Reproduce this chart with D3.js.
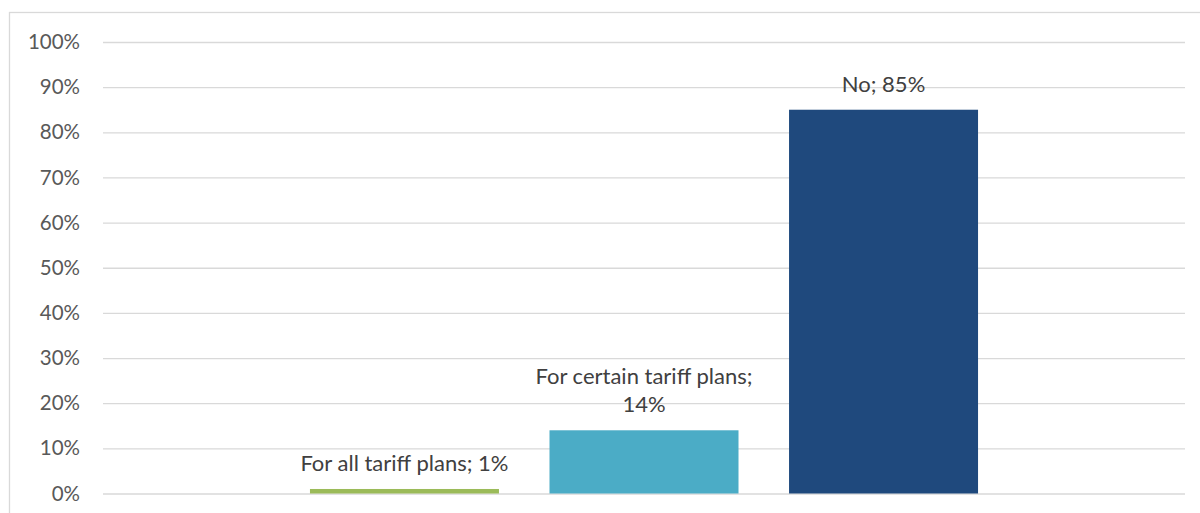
<!DOCTYPE html>
<html>
<head>
<meta charset="utf-8">
<script src="https://cdn.jsdelivr.net/npm/d3@7"></script>
<style>
  html, body { margin: 0; padding: 0; background: #fff; }
  svg { display: block; }
  text { font-family: Lato, "Open Sans", sans-serif; }
</style>
</head>
<body>
<svg id="chart" width="1200" height="513"></svg>
<script>
// Answer options and their shares
const categories = ["For all tariff plans", "For certain tariff plans", "No"];
const shares = [1, 14, 85];
const barColors = ["#9bbb59", "#4bacc6", "#1f497d"];
const tickValues = [0, 10, 20, 30, 40, 50, 60, 70, 80, 90, 100];

const W = 1200, H = 513;
const margin = { top: 42, right: 15, bottom: 19.5, left: 103 };

const svg = d3.select("#chart");

// Outer chart frame (only top and left edges fall inside the page)
svg.append("rect")
  .attr("x", 9.5).attr("y", 12.5)
  .attr("width", W + 20).attr("height", H + 20)
  .attr("fill", "none")
  .attr("stroke", "#d9d9d9")
  .attr("stroke-width", 1.3);

const y = d3.scaleLinear()
  .domain([0, 100])
  .range([H - margin.bottom, margin.top]);

const x = d3.scaleBand()
  .domain(categories)
  .range([margin.left, W - margin.right])
  .paddingInner(0.211)
  .paddingOuter(0.864);

// Horizontal gridlines and percent labels
const yAxis = d3.axisLeft(y)
  .tickValues(tickValues)
  .tickSize(-(W - margin.left - margin.right))
  .tickPadding(23)
  .tickFormat(d => d + "%");

const gAxis = svg.append("g")
  .attr("transform", `translate(${margin.left},0)`)
  .call(yAxis);
gAxis.select(".domain").remove();
gAxis.selectAll(".tick line")
  .attr("stroke", "#d9d9d9")
  .attr("stroke-width", 1.3);
gAxis.selectAll(".tick text")
  .attr("fill", "#595959")
  .style("font-size", "20.5px")
  .style("font-family", "Lato, 'Open Sans', sans-serif");

// Bars
const rows = categories.map((c, i) => ({ name: c, value: shares[i], color: barColors[i] }));

svg.append("g")
  .selectAll("rect")
  .data(rows)
  .join("rect")
  .attr("x", d => x(d.name))
  .attr("y", d => y(d.value))
  .attr("width", x.bandwidth())
  .attr("height", d => y(0) - y(d.value))
  .attr("fill", d => d.color);

// Data labels above each bar, wrapped after the semicolon when too wide
const labels = svg.append("g");
const fontSize = 22, lineGap = 28, maxLabelWidth = 240;

rows.forEach(d => {
  const full = `${d.name}; ${d.value}%`;
  const probe = labels.append("text").style("font-size", fontSize + "px").text(full);
  const wide = probe.node().getComputedTextLength() > maxLabelWidth;
  probe.remove();
  const lines = wide ? [`${d.name};`, `${d.value}%`] : [full];
  const cx = x(d.name) + x.bandwidth() / 2;
  const baseY = y(d.value) - 18;
  lines.forEach((ln, j) => {
    labels.append("text")
      .attr("x", cx)
      .attr("y", baseY - (lines.length - 1 - j) * lineGap)
      .attr("text-anchor", "middle")
      .attr("fill", "#404040")
      .style("font-size", fontSize + "px")
      .text(ln);
  });
});
</script>
</body>
</html>
